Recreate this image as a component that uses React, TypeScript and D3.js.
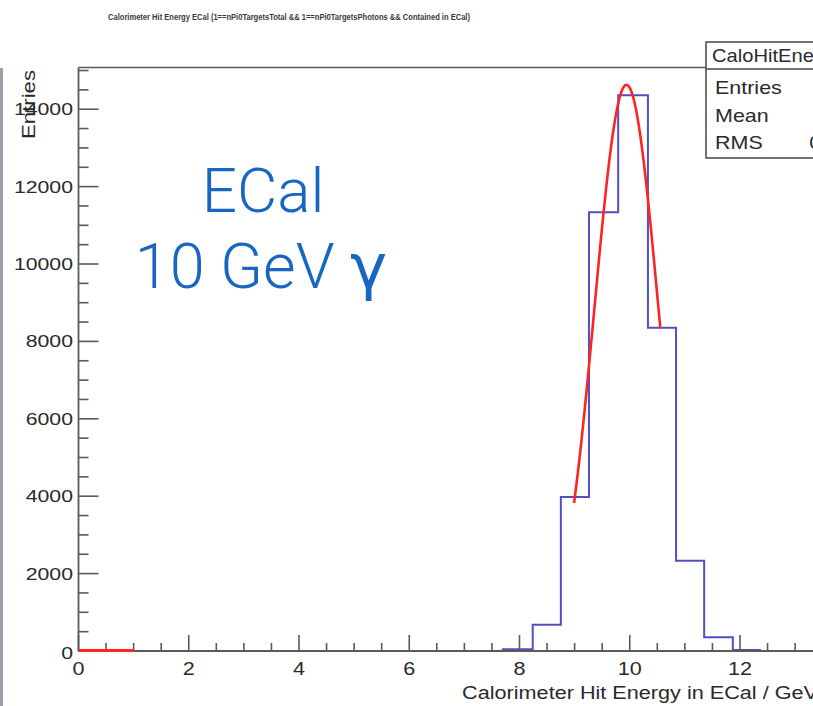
import React from "react";
import * as d3 from "d3";

// Histogram bin edges (GeV) and bin contents
const binEdges = [7.7, 8.24, 8.75, 9.26, 9.79, 10.33, 10.84, 11.35, 11.87, 12.36];
const binCounts = [45, 680, 3980, 11340, 14360, 8350, 2330, 354, 25];

// Gaussian fit result and its fit range
const fitConstant = 14630;
const fitMean = 9.94;
const fitSigma = 0.58;
const fitRange = [8.99, 10.555];

// Fit function also drawn along the baseline at low energy
const lowSegment = [0, 1];

// Axis ticks
const xMajorTicks = [0, 2, 4, 6, 8, 10, 12, 14];
const xTickLabels = ["0", "2", "4", "6", "8", "10", "12"];
const yMajorTicks = [0, 2000, 4000, 6000, 8000, 10000, 12000, 14000];

// Stats box rows
const statsTitle = "CaloHitEnergyECal";
const statsLabels = ["Entries", "Mean", "RMS"];
const statsValues = ["41990", "9.904", "0.5813"];

const titleText =
  "Calorimeter Hit Energy ECal (1==nPi0TargetsTotal && 1==nPi0TargetsPhotons && Contained in ECal)";
const xTitle = "Calorimeter Hit Energy in ECal / GeV";
const yTitle = "Entries";

const W = 813;
const H = 706;
const X0 = 78.5;
const PX_PER_GEV = 55.125;
const Y_BOTTOM = 651;
const Y_TOP = 67.5;
const Y_MAX = 15078;

const ROOT_FONT = "'Liberation Sans', Arial, Helvetica, sans-serif";
const AXIS_COLOR = "#5a5a5a";
const LABEL_COLOR = "#2a2a2a";
const HIST_COLOR = "#5050c4";
const FIT_COLOR = "#ff2424";
const NOTE_COLOR = "#1767c2";

function SText(props: {
  x: number;
  y: number;
  size: number;
  sx?: number;
  anchor?: string;
  fill?: string;
  weight?: number | string;
  family?: string;
  children: React.ReactNode;
}) {
  const { x, y, size, sx = 1.2, anchor = "start", fill = LABEL_COLOR, weight = 400, family = ROOT_FONT } = props;
  return (
    <text
      transform={`translate(${x},${y}) scale(${sx},1)`}
      textAnchor={anchor}
      fontSize={size}
      fontFamily={family}
      fontWeight={weight}
      fill={fill}
    >
      {props.children}
    </text>
  );
}

export default function App() {
  const x = d3.scaleLinear().domain([0, 15]).range([X0, X0 + 15 * PX_PER_GEV]);
  const y = d3.scaleLinear().domain([0, Y_MAX]).range([Y_BOTTOM, Y_TOP]);

  // Step outline of the histogram
  const pts: [number, number][] = [[x(binEdges[0]), y(0)]];
  binCounts.forEach((c, i) => {
    pts.push([x(binEdges[i]), y(c)]);
    pts.push([x(binEdges[i + 1]), y(c)]);
  });
  pts.push([x(binEdges[binEdges.length - 1]), y(0)]);
  const histPath = d3.line()(pts) ?? "";

  // Gaussian fit curve evaluated across the fit range
  const gauss = (e: number) =>
    fitConstant * Math.exp(-((e - fitMean) ** 2) / (2 * fitSigma * fitSigma));
  const fitXs = d3.range(0, 101).map((i) => fitRange[0] + ((fitRange[1] - fitRange[0]) * i) / 100);
  const fitPath =
    d3
      .line<number>()
      .x((e) => x(e))
      .y((e) => y(gauss(e)))
      .curve(d3.curveLinear)(fitXs) ?? "";

  const xMinor = d3.range(0, 15.01, 0.5).filter((v) => !xMajorTicks.includes(v));
  const yMinor = d3.range(0, 15001, 500).filter((v) => !yMajorTicks.includes(v));

  const right = W + 5;

  return (
    <svg
      width={W}
      height={H}
      viewBox={`0 0 ${W} ${H}`}
      style={{ position: "absolute", left: 0, top: 0, background: "#fff" }}
    >
      <rect x={0} y={0} width={W} height={H} fill="#fff" />
      {/* slide edge */}
      <rect x={0} y={68} width={3} height={H - 68} fill="#9aa0a8" />

      {/* histogram title */}
      <text
        x={108}
        y={20}
        fontSize={9}
        fontWeight={700}
        fontFamily={ROOT_FONT}
        fill="#3a3a3a"
        textLength={362}
        lengthAdjust="spacingAndGlyphs"
      >
        {titleText}
      </text>

      {/* histogram */}
      <path d={histPath} fill="none" stroke={HIST_COLOR} strokeWidth={2} />

      {/* fit */}
      <path d={fitPath} fill="none" stroke={FIT_COLOR} strokeWidth={2.6} strokeLinejoin="round" />

      {/* frame */}
      <line x1={x(0)} x2={right} y1={Y_TOP} y2={Y_TOP} stroke={AXIS_COLOR} strokeWidth={1.5} />
      <line x1={x(0)} x2={x(0)} y1={Y_TOP} y2={Y_BOTTOM} stroke={AXIS_COLOR} strokeWidth={1.8} />
      <line x1={x(0)} x2={right} y1={Y_BOTTOM} y2={Y_BOTTOM} stroke={AXIS_COLOR} strokeWidth={1.8} />

      {/* x ticks */}
      {xMajorTicks.map((t) => (
        <line key={"xM" + t} x1={x(t)} x2={x(t)} y1={Y_BOTTOM} y2={Y_BOTTOM - 16} stroke={AXIS_COLOR} strokeWidth={1.6} />
      ))}
      {xMinor.map((t) => (
        <line key={"xm" + t} x1={x(t)} x2={x(t)} y1={Y_BOTTOM} y2={Y_BOTTOM - 8} stroke={AXIS_COLOR} strokeWidth={1.6} />
      ))}

      {/* y ticks */}
      {yMajorTicks.map((t) => (
        <line key={"yM" + t} x1={x(0)} x2={x(0) + 20} y1={y(t)} y2={y(t)} stroke={AXIS_COLOR} strokeWidth={1.6} />
      ))}
      {yMinor.map((t) => (
        <line key={"ym" + t} x1={x(0)} x2={x(0) + 10} y1={y(t)} y2={y(t)} stroke={AXIS_COLOR} strokeWidth={1.6} />
      ))}

      {/* low-energy fit segment on the baseline */}
      <line
        x1={x(lowSegment[0])}
        x2={x(lowSegment[1])}
        y1={Y_BOTTOM - 0.5}
        y2={Y_BOTTOM - 0.5}
        stroke={FIT_COLOR}
        strokeWidth={3}
      />

      {/* x tick labels */}
      {xTickLabels.map((lab, i) => (
        <SText key={"xl" + lab} x={x(xMajorTicks[i])} y={675} size={18} anchor="middle">
          {lab}
        </SText>
      ))}

      {/* y tick labels */}
      {yMajorTicks.map((t) => (
        <SText key={"yl" + t} x={73} y={t === 0 ? y(t) + 8 : y(t) + 6} size={17} anchor="end" sx={1.25}>
          {String(t)}
        </SText>
      ))}

      {/* axis titles */}
      <SText x={right} y={699} size={18.5} anchor="end" sx={1.17}>
        {xTitle}
      </SText>
      <text
        transform="translate(35,70) rotate(-90)"
        textAnchor="end"
        fontSize={18}
        fontFamily={ROOT_FONT}
        fill={LABEL_COLOR}
        textLength={69}
        lengthAdjust="spacingAndGlyphs"
      >
        {yTitle}
      </text>

      {/* stats box */}
      <rect x={706} y={42} width={200} height={116} fill="#fff" stroke="#444" strokeWidth={1.5} />
      <line x1={706} x2={906} y1={69} y2={69} stroke="#444" strokeWidth={1.5} />
      <SText x={712} y={62} size={18} sx={1.12}>
        {statsTitle}
      </SText>
      {statsLabels.map((lab, i) => (
        <g key={lab}>
          <SText x={715} y={94 + i * 27.5} size={19} sx={1.13}>
            {lab}
          </SText>
          <SText x={875} y={94 + i * 27.5} size={19} sx={1.13} anchor="end">
            {statsValues[i]}
          </SText>
        </g>
      ))}

      {/* annotation */}
      <text
        x={263}
        y={212}
        textAnchor="middle"
        fontSize={62}
        fontFamily="Roboto, 'Open Sans', sans-serif"
        fontWeight={300}
        fill={NOTE_COLOR}
      >
        ECal
      </text>
      <text
        x={261}
        y={288}
        textAnchor="middle"
        fontSize={63}
        fontFamily="Roboto, 'Open Sans', sans-serif"
        fontWeight={300}
        fill={NOTE_COLOR}
      >
        10 GeV{" "}
        <tspan fontFamily="'DejaVu Sans', sans-serif" fontWeight={400}>
          γ
        </tspan>
      </text>
    </svg>
  );
}
